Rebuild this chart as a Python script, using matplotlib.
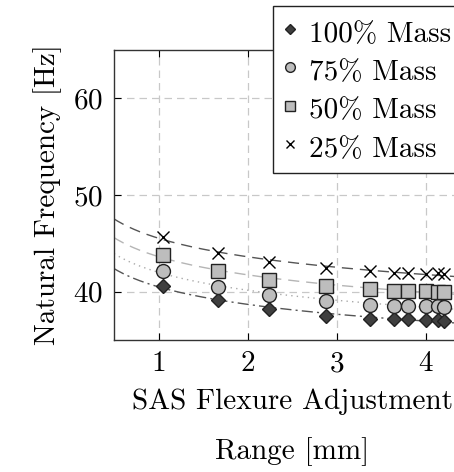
import numpy as np
import matplotlib
matplotlib.use("Agg")
import matplotlib.pyplot as plt

# flexure adjustment range [mm]
rng = [1.05, 1.67, 2.24, 2.88, 3.37, 3.64, 3.80, 4.00, 4.14, 4.20]

# natural frequency [Hz] for each mass fraction
f100 = [40.6, 39.1, 38.2, 37.5, 37.2, 37.15, 37.15, 37.05, 37.05, 37.0]
f75 = [42.15, 40.5, 39.65, 39.0, 38.65, 38.55, 38.55, 38.5, 38.47, 38.45]
f50 = [43.75, 42.1, 41.25, 40.6, 40.25, 40.1, 40.1, 40.03, 40.0, 40.0]
f25 = [45.65, 44.0, 43.1, 42.45, 42.1, 41.9, 41.9, 41.85, 41.9, 41.85]

labels = ["100% Mass", "75% Mass", "50% Mass", "25% Mass"]

plt.rcParams.update({
    "font.family": "serif",
    "font.serif": ["cmr10", "DejaVu Serif"],
    "mathtext.fontset": "cm",
    "axes.formatter.use_mathtext": True,
    "font.size": 21,
})

fig = plt.figure(figsize=(4.54, 4.72), dpi=100)
ax = fig.add_axes([0.251, 0.2797, 0.785, 0.614])

styles = [
    (f100, "D", "#3f3f3f", 7, (0, (8, 3, 1.5, 3)), "#555555"),
    (f75, "o", "#bdbdbd", 10, (0, (1, 3)), "#aaaaaa"),
    (f50, "s", "#bdbdbd", 10, (0, (8, 5)), "#b5b5b5"),
    (f25, "x", "black", 9, (0, (8, 5)), "#555555"),
]

x = np.array(rng)
xf = np.linspace(0.5, 4.6, 200)
handles = []
for (y, mk, fc, ms, ls, lc), lab in zip(styles, labels):
    # power-law fit through the points
    b, a = np.polyfit(np.log(x), np.log(np.array(y)), 1)
    ax.plot(xf, np.exp(a) * xf ** b, color=lc, lw=1.0, linestyle=ls, zorder=2)
    if mk == "x":
        h = ax.plot(x, y, linestyle="none", marker=mk, color="black", ms=ms, mew=1.0, zorder=3)[0]
    else:
        h = ax.plot(x, y, linestyle="none", marker=mk, mfc=fc, mec="#222222", ms=ms, mew=1.0, zorder=3)[0]
    handles.append(h)

ax.set_xlim(0.5, 4.5)
ax.set_ylim(35, 65)
ax.set_xticks([1, 2, 3, 4])
ax.set_yticks([40, 50, 60])
ax.grid(True, color="#c8c8c8", linestyle=(0, (6, 4)), lw=0.9)
ax.tick_params(direction="in", length=5, width=0.8, pad=8, top=True, right=True, labelsize=21)
for s in ax.spines.values():
    s.set_linewidth(1.0)
    s.set_color("#333333")

ax.set_ylabel("Natural Frequency [Hz]", fontsize=21, labelpad=8)
ax.set_xlabel("SAS Flexure Adjustment\nRange [mm]", fontsize=21, linespacing=2.0, labelpad=8)

leg = fig.legend(handles, labels, loc="upper left", bbox_to_anchor=(0.601, 0.987),
                 fontsize=21, frameon=True, fancybox=False, edgecolor="#222222",
                 framealpha=1, handlelength=0.5, handleheight=1.3, handletextpad=0.4,
                 borderpad=0.35, borderaxespad=0, labelspacing=0.22, markerscale=0.7)
leg.get_frame().set_linewidth(1.0)

fig.savefig("out.png", dpi=100)
